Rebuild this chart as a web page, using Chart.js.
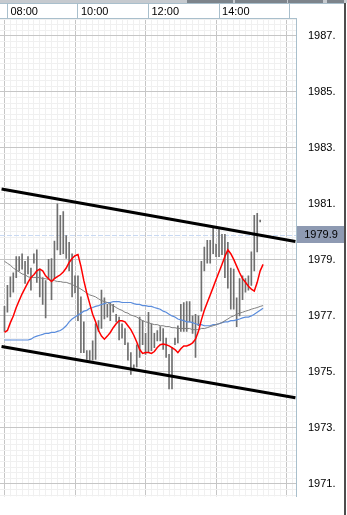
<!DOCTYPE html>
<html>
<head>
<meta charset="utf-8">
<script src="https://cdn.jsdelivr.net/npm/chart.js@4.4.1/dist/chart.umd.min.js"></script>
<style>
  html, body { margin: 0; padding: 0; background: #fff; }
  canvas { display: block; }
</style>
</head>
<body>
<canvas id="chart" width="347" height="515"></canvas>
<script>
// 5 minute bars, 07:55 .. 15:15 (lines run one bar further than the bars)
const times = [
  "07:55",
  "08:00", "08:05", "08:10", "08:15", "08:20", "08:25", "08:30", "08:35", "08:40", "08:45", "08:50", "08:55",
  "09:00", "09:05", "09:10", "09:15", "09:20", "09:25", "09:30", "09:35", "09:40", "09:45", "09:50", "09:55",
  "10:00", "10:05", "10:10", "10:15", "10:20", "10:25", "10:30", "10:35", "10:40", "10:45", "10:50", "10:55",
  "11:00", "11:05", "11:10", "11:15", "11:20", "11:25", "11:30", "11:35", "11:40", "11:45", "11:50", "11:55",
  "12:00", "12:05", "12:10", "12:15", "12:20", "12:25", "12:30", "12:35", "12:40", "12:45", "12:50", "12:55",
  "13:00", "13:05", "13:10", "13:15", "13:20", "13:25", "13:30", "13:35", "13:40", "13:45", "13:50", "13:55",
  "14:00", "14:05", "14:10", "14:15", "14:20", "14:25", "14:30", "14:35", "14:40", "14:45", "14:50", "14:55",
  "15:00", "15:05", "15:10", "15:15"
];

// bar highs / lows (07:55 .. 15:10)
const barHigh = [
  1977.34,
  1978.09, 1978.40, 1978.54, 1979.12, 1979.12, 1979.22, 1978.95, 1979.12, 1978.71, 1979.22, 1979.36, 1978.67,
  1978.37, 1978.26, 1979.02, 1979.05, 1979.67, 1981.00, 1980.59, 1980.73, 1979.87, 1979.63, 1979.22, 1978.43,
  1978.43, 1977.68, 1976.79, 1975.76, 1975.76, 1976.11, 1976.72, 1976.83, 1977.92, 1977.65, 1977.41, 1977.48,
  1977.41, 1977.06, 1976.96, 1976.72, 1976.55, 1976.04, 1975.69, 1975.25, 1975.97, 1976.96, 1976.83, 1976.38,
  1977.13, 1976.72, 1976.38, 1976.48, 1976.62, 1976.55, 1976.21, 1975.63, 1975.87, 1976.21, 1976.65, 1977.41,
  1977.48, 1977.51, 1977.51, 1977.00, 1977.06, 1977.00, 1978.95, 1979.46, 1979.70, 1979.70, 1980.15, 1979.57,
  1980.08, 1979.91, 1979.91, 1979.63, 1978.71, 1978.67, 1977.65, 1978.33, 1978.43, 1978.33, 1978.43, 1979.29,
  1980.59, 1980.66, 1980.42
];
const barLow = [
  1976.45,
  1977.13, 1977.68, 1977.85, 1978.37, 1978.61, 1978.67, 1978.16, 1978.50, 1977.92, 1978.88, 1978.20, 1977.68,
  1977.41, 1976.93, 1978.33, 1977.58, 1978.33, 1979.36, 1979.19, 1979.22, 1979.05, 1978.61, 1977.68, 1977.82,
  1976.83, 1975.69, 1975.69, 1975.45, 1975.42, 1975.42, 1975.45, 1976.45, 1976.55, 1976.89, 1976.96, 1976.83,
  1977.13, 1976.79, 1976.14, 1976.21, 1975.97, 1975.42, 1974.91, 1975.08, 1975.18, 1975.52, 1975.97, 1975.63,
  1975.69, 1975.76, 1975.87, 1976.11, 1976.11, 1975.80, 1975.52, 1974.39, 1974.39, 1975.97, 1976.04, 1976.45,
  1976.45, 1976.45, 1976.79, 1976.38, 1975.52, 1976.65, 1977.17, 1978.61, 1978.88, 1978.88, 1979.22, 1979.12,
  1979.12, 1979.19, 1978.37, 1977.99, 1977.24, 1977.24, 1976.62, 1977.00, 1977.58, 1977.85, 1977.92, 1978.09,
  1978.61, 1979.29, 1980.36
];

// fast average (red)
const fastLine = [
  1976.41,
  1976.48, 1976.76, 1977.00, 1977.30, 1977.55, 1977.79, 1977.99, 1978.20, 1978.37, 1978.47, 1978.61, 1978.67,
  1978.61, 1978.43, 1978.33, 1978.23, 1978.33, 1978.40, 1978.47, 1978.57, 1978.71, 1978.91, 1979.05, 1979.15,
  1979.19, 1978.78, 1978.26, 1977.82, 1977.44, 1977.06, 1976.79, 1976.48, 1976.28, 1976.17, 1976.28, 1976.41,
  1976.58, 1976.72, 1976.83, 1976.83, 1976.79, 1976.65, 1976.51, 1976.31, 1976.07, 1975.80, 1975.66, 1975.69,
  1975.69, 1975.66, 1975.73, 1975.87, 1975.97, 1976.00, 1975.97, 1975.93, 1975.87, 1975.80, 1975.69, 1975.83,
  1975.93, 1975.93, 1975.97, 1976.04, 1976.17, 1976.45, 1976.86, 1977.20, 1977.48, 1977.75, 1978.02, 1978.30,
  1978.57, 1978.84, 1979.12, 1979.36, 1979.22, 1979.02, 1978.78, 1978.54, 1978.33, 1978.20, 1978.06, 1977.96,
  1977.89, 1978.20, 1978.61, 1978.84
];

// slow average (gray)
const slowLine = [
  1978.95,
  1978.88, 1978.81, 1978.71, 1978.64, 1978.57, 1978.50, 1978.47, 1978.40, 1978.37, 1978.37, 1978.37, 1978.37,
  1978.33, 1978.33, 1978.30, 1978.26, 1978.26, 1978.23, 1978.23, 1978.20, 1978.20, 1978.16, 1978.13, 1978.06,
  1978.02, 1977.96, 1977.89, 1977.82, 1977.75, 1977.72, 1977.68, 1977.61, 1977.55, 1977.51, 1977.48, 1977.41,
  1977.37, 1977.30, 1977.24, 1977.20, 1977.13, 1977.10, 1977.03, 1977.00, 1976.96, 1976.89, 1976.83, 1976.79,
  1976.76, 1976.72, 1976.69, 1976.69, 1976.65, 1976.65, 1976.62, 1976.62, 1976.58, 1976.58, 1976.55, 1976.55,
  1976.55, 1976.55, 1976.55, 1976.51, 1976.51, 1976.51, 1976.55, 1976.55, 1976.58, 1976.62, 1976.65, 1976.69,
  1976.72, 1976.76, 1976.83, 1976.89, 1976.96, 1977.00, 1977.06, 1977.10, 1977.13, 1977.17, 1977.20, 1977.24,
  1977.27, 1977.30, 1977.34, 1977.37
];

// long average (blue)
const longLine = [
  1976.14,
  1976.14, 1976.14, 1976.14, 1976.14, 1976.14, 1976.14, 1976.14, 1976.14, 1976.17, 1976.24, 1976.28, 1976.31,
  1976.34, 1976.38, 1976.38, 1976.41, 1976.41, 1976.45, 1976.48, 1976.55, 1976.65, 1976.79, 1976.89, 1976.96,
  1977.03, 1977.10, 1977.17, 1977.20, 1977.27, 1977.30, 1977.34, 1977.37, 1977.41, 1977.44, 1977.48, 1977.48,
  1977.51, 1977.51, 1977.51, 1977.48, 1977.48, 1977.48, 1977.48, 1977.44, 1977.41, 1977.41, 1977.37, 1977.37,
  1977.34, 1977.34, 1977.30, 1977.27, 1977.24, 1977.17, 1977.13, 1977.06, 1977.00, 1976.96, 1976.89, 1976.86,
  1976.83, 1976.79, 1976.79, 1976.76, 1976.72, 1976.69, 1976.69, 1976.65, 1976.65, 1976.65, 1976.69, 1976.69,
  1976.72, 1976.76, 1976.79, 1976.79, 1976.83, 1976.83, 1976.86, 1976.89, 1976.93, 1976.96, 1976.96, 1977.00,
  1977.06, 1977.13, 1977.20, 1977.27
];

// channel lines
const trendTimes = ["07:50", "16:10"];
const upperTrend = [1981.53, 1979.66];
const lowerTrend = [1975.91, 1974.08];

const lastPrice = 1979.9;

const toMin = (t) => {
  const [h, m] = t.split(":").map(Number);
  return h * 60 + m;
};
const fmtTime = (v) => String(Math.floor(v / 60)).padStart(2, "0") + ":" + String(v % 60).padStart(2, "0");
const isMajorPrice = (v) => Math.abs(v - Math.round(v)) < 1e-6 && Math.abs(Math.round(v)) % 2 === 1;

const barData = barHigh.map((h, i) => ({ x: toMin(times[i]), y: [barLow[i], h] }));
const lineData = (arr, ts) => arr.map((v, i) => ({ x: toMin(ts[i]), y: v }));

const borderBlue = "#a9bfcc";
const labelFont = { family: "'Liberation Sans', Arial, sans-serif", size: 11 };

// strip on top, price tag and dashed last-price line
const decorations = {
  id: "decorations",
  beforeDatasetsDraw(chart) {
    const { ctx, chartArea, scales } = chart;
    const y = Math.round(scales.y.getPixelForValue(lastPrice)) + 0.5;
    ctx.save();
    ctx.strokeStyle = "#c9d9f2";
    ctx.lineWidth = 1;
    ctx.setLineDash([5, 2]);
    ctx.beginPath();
    ctx.moveTo(chartArea.left, y);
    ctx.lineTo(chartArea.right, y);
    ctx.stroke();
    ctx.restore();
  },
  afterDraw(chart) {
    const { ctx, chartArea, scales } = chart;
    ctx.save();
    // window bar at the very top
    ctx.fillStyle = "#c6cacf";
    ctx.fillRect(0, 0, 347, 3);
    ctx.fillStyle = "#7d848b";
    [[187, 46], [235, 52], [288, 35], [327, 17]].forEach(([x, w]) => ctx.fillRect(x, 0, w, 3));

    // time strip borders
    ctx.strokeStyle = borderBlue;
    ctx.lineWidth = 1;
    ctx.beginPath();
    ctx.moveTo(0, 3.5);
    ctx.lineTo(344, 3.5);
    [480, 600, 720, 840, 960].forEach((m) => {
      const x = Math.floor(scales.x.getPixelForValue(m)) + 0.5;
      ctx.moveTo(x, 3.5);
      ctx.lineTo(x, chartArea.top);
    });
    ctx.stroke();

    // last price tag
    const y = scales.y.getPixelForValue(lastPrice);
    ctx.fillStyle = "#8e9ab2";
    ctx.fillRect(chartArea.right + 1, Math.round(y) - 9, 345 - chartArea.right - 1, 17);
    ctx.fillStyle = "#000";
    ctx.font = "11px " + labelFont.family;
    ctx.textAlign = "center";
    ctx.textBaseline = "middle";
    ctx.fillText(lastPrice.toFixed(1), 321, Math.round(y));

    // dark frame on the right
    ctx.fillStyle = "#4d4d4d";
    ctx.fillRect(344, 3, 2, 512);
    ctx.restore();
  }
};

// half a pixel shift so the 1px bars land on whole pixels
const xMin = 480 - 4.5 / 0.6;
const xMax = xMin + 296 / 0.6;

new Chart(document.getElementById("chart"), {
  type: "bar",
  data: {
    datasets: [
      {
        type: "line",
        data: lineData(upperTrend, trendTimes),
        borderColor: "#000",
        borderWidth: 3,
        pointRadius: 0,
        order: 0,
      },
      {
        type: "line",
        data: lineData(lowerTrend, trendTimes),
        borderColor: "#000",
        borderWidth: 3,
        pointRadius: 0,
        order: 0,
      },
      {
        type: "line",
        data: lineData(fastLine, times),
        borderColor: "#ff0000",
        borderWidth: 1.5,
        pointRadius: 0,
        order: 1,
      },
      {
        type: "line",
        data: lineData(slowLine, times),
        borderColor: "#808080",
        borderWidth: 1,
        pointRadius: 0,
        order: 2,
      },
      {
        type: "line",
        data: lineData(longLine, times),
        borderColor: "#5a8cdc",
        borderWidth: 1.2,
        pointRadius: 0,
        order: 2,
      },
      {
        data: barData,
        backgroundColor: "#6f6f6f",
        borderWidth: 0,
        barThickness: 1,
        grouped: false,
        order: 3,
      },
    ],
  },
  options: {
    responsive: false,
    animation: false,
    devicePixelRatio: 1,
    layout: { padding: { top: 3, right: 2, bottom: 0, left: 0 } },
    plugins: {
      legend: { display: false },
      tooltip: { enabled: false },
    },
    scales: {
      x: {
        type: "linear",
        position: "top",
        min: xMin,
        max: xMax,
        afterBuildTicks: (scale) => {
          const ticks = [];
          for (let m = 480; m <= 960; m += 10) ticks.push({ value: m });
          scale.ticks = ticks;
        },
        afterFit: (scale) => {
          scale.height = 14;
        },
        grid: {
          drawTicks: false,
          color: (ctx) => (ctx.tick && ctx.tick.value % 120 === 0 ? "#c6c6c6" : "#f0f0f0"),
        },
        border: { color: borderBlue },
        ticks: {
          autoSkip: false,
          maxRotation: 0,
          minRotation: 0,
          align: "start",
          labelOffset: 3,
          padding: 0,
          color: "#000",
          font: labelFont,
          callback: (v) => (v % 120 === 0 && v < 960 ? fmtTime(v) : ""),
        },
      },
      y: {
        type: "linear",
        position: "right",
        min: 1970.556,
        max: 1987.617,
        afterBuildTicks: (scale) => {
          const ticks = [];
          for (let v = 19706; v <= 19876; v += 2) ticks.push({ value: v / 10 });
          scale.ticks = ticks;
        },
        afterFit: (scale) => {
          scale.width = 49;
        },
        grid: {
          drawTicks: false,
          color: (ctx) => (ctx.tick && isMajorPrice(ctx.tick.value) ? "#c6c6c6" : "#f0f0f0"),
        },
        border: { color: borderBlue },
        ticks: {
          autoSkip: false,
          padding: 12,
          color: "#000",
          font: labelFont,
          callback: (v) => (isMajorPrice(v) ? Math.round(v) + "." : ""),
        },
      },
    },
  },
  plugins: [decorations],
});
</script>
</body>
</html>
